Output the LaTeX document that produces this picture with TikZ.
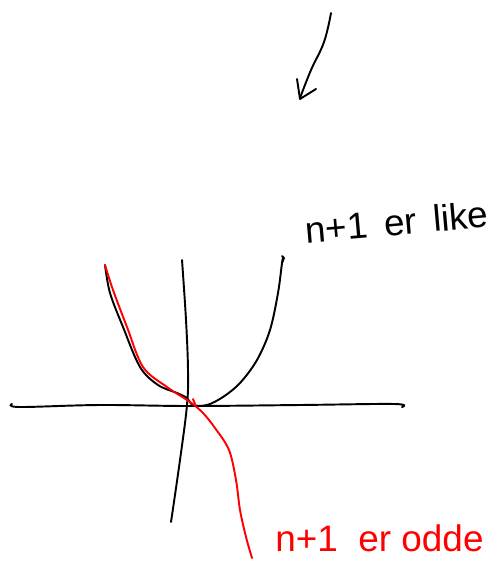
\documentclass[tikz,border=0pt]{standalone}
\usepackage{fontspec}
\setmainfont{Liberation Sans}
\usetikzlibrary{positioning}

\begin{document}
\begin{tikzpicture}[
      x=0.02cm, y=-0.02cm,
      pen/.style={line width=1.1pt, line cap=round, line join=round},
      redpen/.style={pen, red},
      note/.style={font=\fontsize{21}{23}\selectfont, inner sep=0pt, anchor=west}
    ]
    \useasboundingbox (0,0) rectangle (497,563);

    % arrow at the top
    \draw[pen] plot[smooth, tension=0.7] coordinates {(331,13) (324,42) (311,70) (300,98)};
    \draw[pen] (297,79) -- (300,99) -- (316,89);

    % axes
    \draw[pen] plot[smooth, tension=0.6] coordinates {(12,404) (20,407) (100,405) (190,406)
      (300,405) (394,404) (402,407)};
    \draw[pen] plot[smooth, tension=0.6] coordinates {(182,260) (186,320) (188,370)
      (187,405) (180,460) (171,522)};

    % parabola
    \draw[pen] plot[smooth, tension=0.55] coordinates {(105,265) (110,293) (123,327)
      (140,367) (158,385) (177,393) (187,398) (193,405) (207,405) (223,397)
      (240,383) (257,360) (270,330) (278,293) (282,263) (283,258)};
    \draw[pen] (282,263) -- (284,258) -- (282,256);

    % odd curve
    \draw[redpen] plot[smooth, tension=0.55] coordinates {(105,265) (113,290)
      (127,327) (143,367) (167,387) (190,402) (203,413) (215,428) (229,450)
      (236,480) (240,510) (246,537) (252,558)};
    \draw[redpen] (193,399) -- (195,404);

    % labels
    \node[note, rotate=5] (even) at (305,230) {n+1 \,er \,like};
    \node[note, red] (odd) at (275,538) {n+1 \ er odde};
  \end{tikzpicture}
\end{document}
